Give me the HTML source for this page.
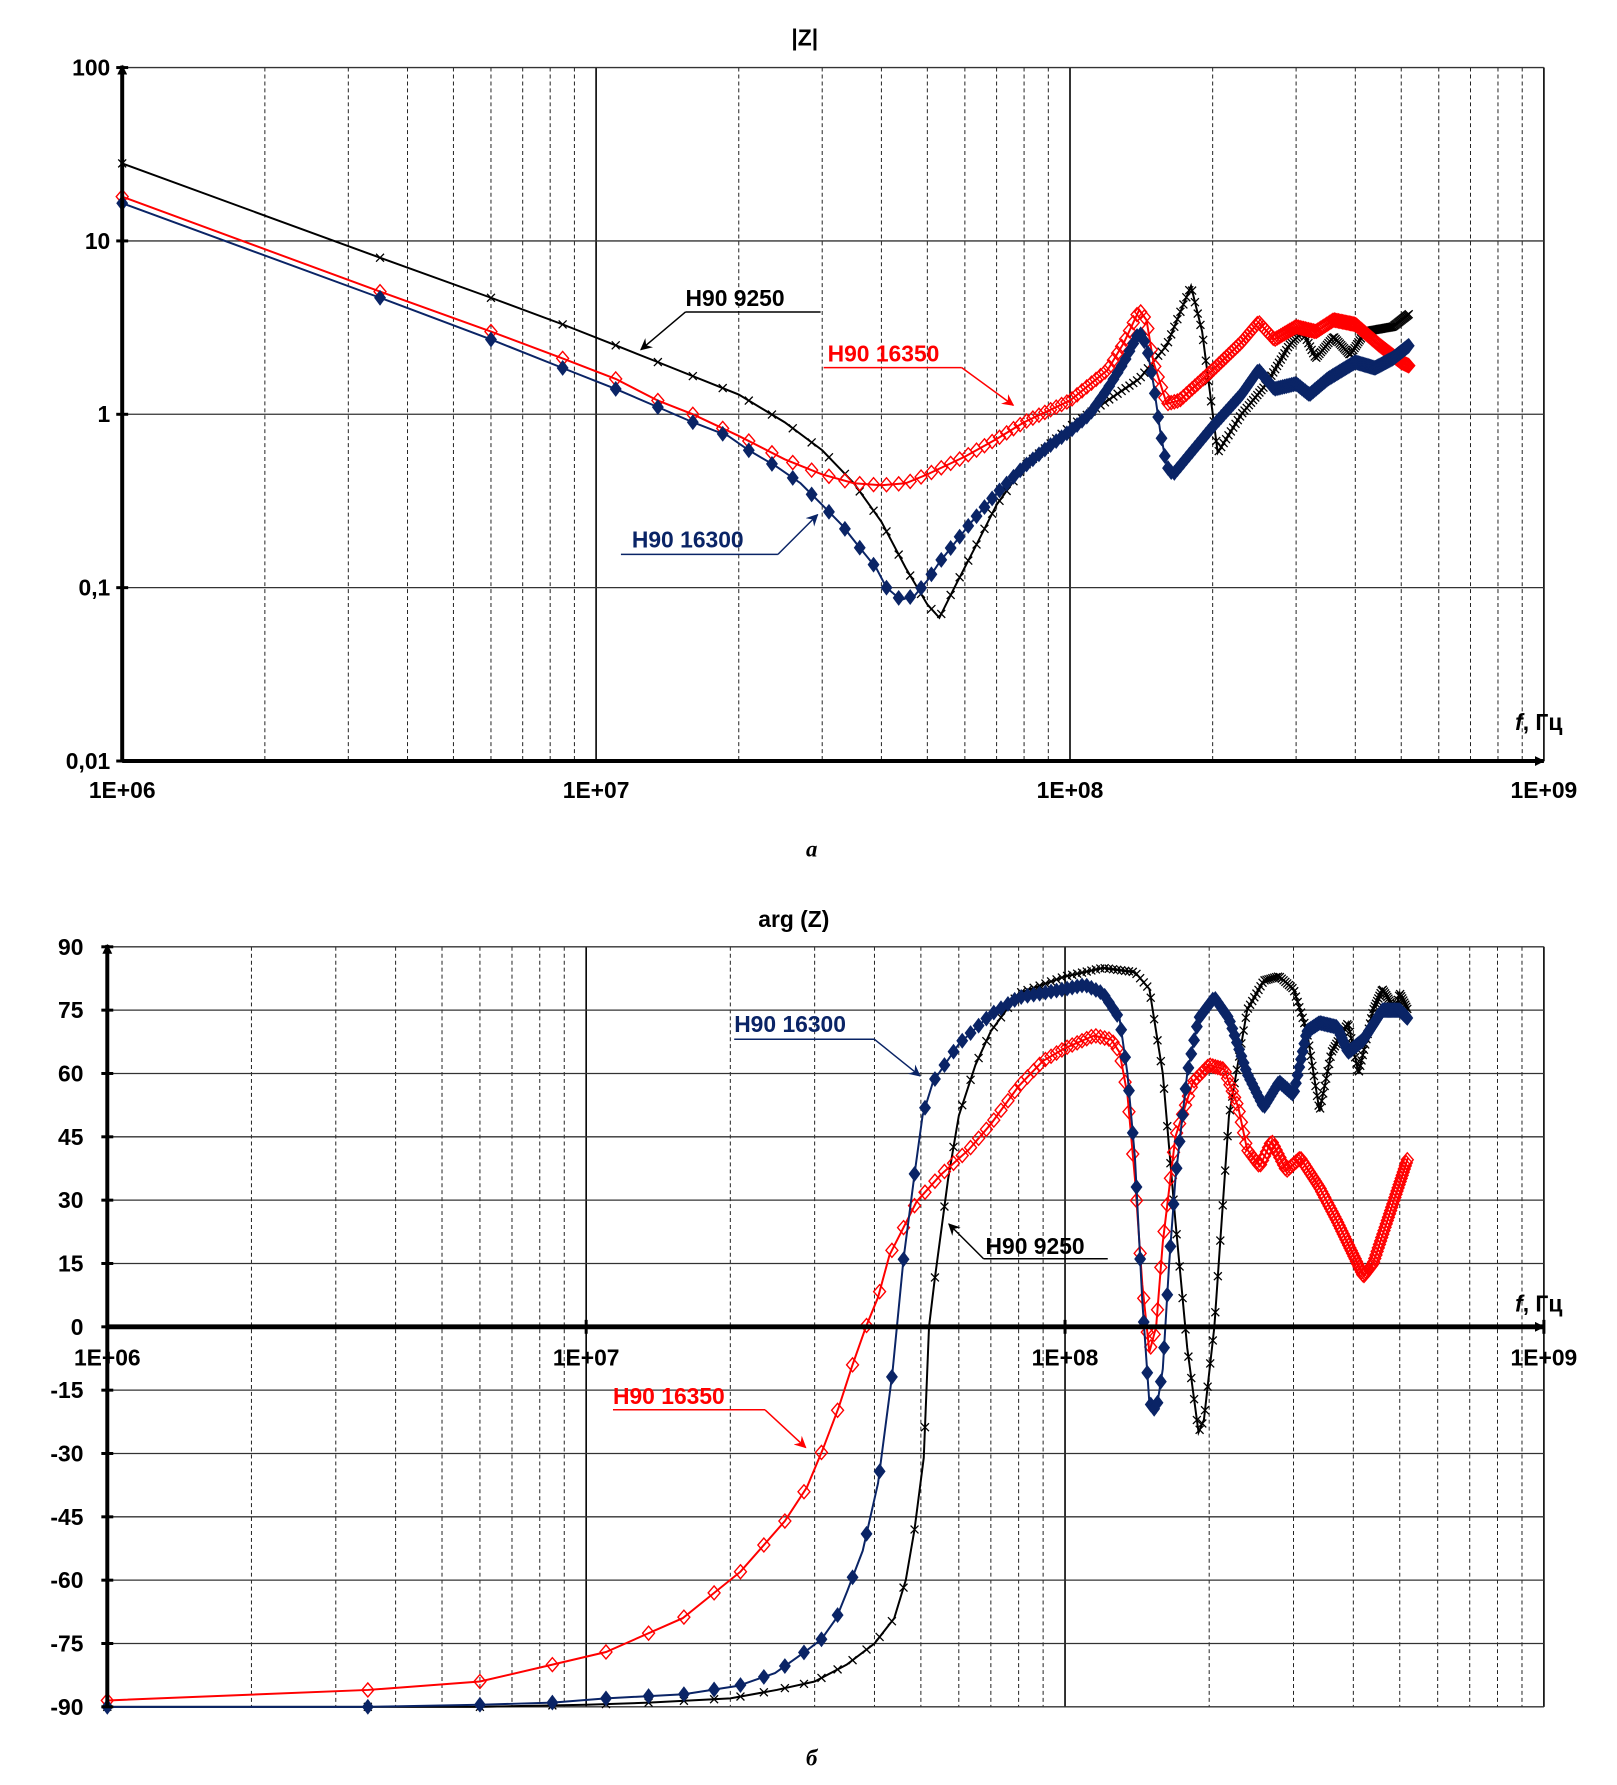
<!DOCTYPE html>
<html><head><meta charset="utf-8"><style>
html,body{margin:0;padding:0;background:#fff;}
svg{display:block;font-family:"Liberation Sans",sans-serif;}
.lbl{font-weight:bold;font-size:23px;}
</style></head><body>
<svg id="svg" width="1617" height="1785" viewBox="0 0 1617 1785">
<defs>
<marker id="ab" markerWidth="10" markerHeight="10" refX="9" refY="5" orient="auto" markerUnits="userSpaceOnUse"><path d="M0,0 L10,5 L0,10 z" fill="#000"/></marker>
<marker id="ar" markerWidth="12" markerHeight="12" refX="11" refY="6" orient="auto" markerUnits="userSpaceOnUse"><path d="M0,0 L12,6 L0,12 L4,6z" fill="red"/></marker>
<marker id="an" markerWidth="12" markerHeight="12" refX="11" refY="6" orient="auto" markerUnits="userSpaceOnUse"><path d="M0,0 L12,6 L0,12 L4,6z" fill="#0a2466"/></marker>
<marker id="ak" markerWidth="12" markerHeight="12" refX="11" refY="6" orient="auto" markerUnits="userSpaceOnUse"><path d="M0,0 L12,6 L0,12 L4,6z" fill="#000"/></marker>
</defs>
<g id="root" transform="scale(0.9935)"></g>
</svg>
<script>
// ===== Top chart |Z| data =====
const magBlueF=[1e6,3.5e6,6e6,8.5e6,1.1e7,1.35e7,1.6e7,1.9e7,2.1e7,2.4e7,2.7e7,3e7,3.3e7,3.6e7,3.9e7,4.1e7,4.4e7,4.7e7,5e7,5.3e7,5.7e7,6.2e7,7e7,8e7,9e7,1e8,1.1e8,1.2e8,1.3e8,1.4e8,1.45e8,1.5e8,1.55e8,1.6e8,1.65e8,1.8e8,2e8,2.3e8,2.5e8,2.7e8,3e8,3.2e8,3.5e8,4e8,4.4e8,4.8e8,5.2e8];
const magBlueV=[16.5,4.7,2.7,1.85,1.4,1.1,0.9,0.75,0.62,0.5,0.4,0.3,0.23,0.17,0.13,0.1,0.085,0.09,0.11,0.14,0.18,0.24,0.35,0.5,0.65,0.8,1.0,1.4,2.0,3.0,2.5,1.5,0.8,0.5,0.45,0.6,0.85,1.3,1.8,1.4,1.5,1.3,1.6,2.0,1.85,2.1,2.5];
const magRedF=[1e6,3.5e6,6e6,8.5e6,1.1e7,1.35e7,1.6e7,2e7,2.5e7,3e7,3.5e7,4e7,4.5e7,5e7,6e7,7e7,8e7,1e8,1.2e8,1.3e8,1.4e8,1.45e8,1.5e8,1.6e8,1.7e8,2e8,2.3e8,2.5e8,2.7e8,3e8,3.3e8,3.6e8,4e8,4.5e8,5e8,5.2e8];
const magRedV=[18,5.1,3.0,2.1,1.6,1.2,1.0,0.75,0.55,0.45,0.4,0.39,0.4,0.45,0.57,0.72,0.9,1.2,1.8,2.6,4.0,3.5,2.0,1.15,1.2,1.8,2.6,3.4,2.7,3.2,3.0,3.5,3.3,2.5,2.0,1.9];
const magBlackF=[1e6,3.5e6,6e6,8.5e6,1.1e7,1.35e7,2e7,2.5e7,3e7,3.5e7,4e7,4.5e7,5e7,5.3e7,5.7e7,6.3e7,7e7,8e7,1e8,1.2e8,1.4e8,1.6e8,1.8e8,1.9e8,2.05e8,2.3e8,2.6e8,2.9e8,3.1e8,3.3e8,3.6e8,3.9e8,4.2e8,4.8e8,5.2e8];
const magBlackV=[28,8,4.7,3.3,2.5,2.0,1.3,0.9,0.62,0.4,0.24,0.13,0.08,0.067,0.1,0.17,0.3,0.5,0.85,1.2,1.6,2.5,5.5,3,0.6,1.0,1.5,2.5,3.0,2.1,2.8,2.2,3.0,3.2,3.8];
const magTicks=[0.01,0.1,1,10,100];
const magTickLabels=["0,01","0,1","1","10","100"];
const freqTicks=[1e6,1e7,1e8,1e9];
const freqTickLabels=["1E+06","1E+07","1E+08","1E+09"];
// ===== Bottom chart arg(Z) data =====
const phBlueF=[1e6,3.5e6,6e6,8.5e6,1.1e7,1.6e7,2.08e7,2.48e7,2.86e7,3.1e7,3.33e7,3.51e7,3.78e7,4.07e7,4.36e7,4.6e7,4.86e7,5.04e7,5.3e7,6e7,7e7,8e7,1e8,1.1e8,1.2e8,1.3e8,1.35e8,1.4e8,1.45e8,1.5e8,1.55e8,1.6e8,1.65e8,1.7e8,1.8e8,1.9e8,2.05e8,2.2e8,2.4e8,2.6e8,2.8e8,3e8,3.2e8,3.4e8,3.7e8,3.9e8,4.2e8,4.6e8,5e8,5.2e8];
const phBlueV=[-90,-90,-89.5,-89,-88,-87,-85,-82,-77,-74,-69,-62.6,-53,-37,-11,16,37,50,58,67,74,78,80,81,79,73,60,40,6,-18,-20,-10,15,35,60,73,78,73,60,52,58,55,70,72,71,65,68,75,75,73];
const phRedF=[1e6,3.5e6,6e6,8.5e6,1.1e7,1.59e7,2.1e7,2.6e7,2.89e7,3.12e7,3.37e7,3.6e7,3.84e7,4.07e7,4.3e7,4.6e7,4.9e7,5.5e7,6.3e7,7e7,8e7,9e7,1e8,1.15e8,1.25e8,1.3e8,1.35e8,1.4e8,1.45e8,1.5e8,1.55e8,1.6e8,1.7e8,1.85e8,2e8,2.15e8,2.3e8,2.4e8,2.55e8,2.7e8,2.9e8,3.1e8,3.4e8,3.7e8,4e8,4.2e8,4.4e8,4.8e8,5.2e8];
const phRedV=[-88.5,-86,-84,-80,-77,-69,-58,-46,-38,-29,-19,-9,0,7,17,23.5,29.7,36,42,48,57,63,66,69,68,65,55,35,10,-6,0,20,45,58,62,61,52,42,38,44,37,40,33,25,17,12,15,28,40];
const phBlackF=[1e6,3.5e6,6e6,1e7,1.35e7,2e7,2.5e7,3e7,3.5e7,4e7,4.4e7,4.65e7,4.85e7,5.07e7,5.2e7,5.34e7,5.7e7,6e7,6.5e7,7e7,8e7,1e8,1.2e8,1.4e8,1.5e8,1.6e8,1.7e8,1.8e8,1.9e8,1.95e8,2.05e8,2.2e8,2.4e8,2.6e8,2.8e8,3e8,3.2e8,3.4e8,3.6e8,3.9e8,4.1e8,4.4e8,4.6e8,4.9e8,5e8,5.2e8];
const phBlackV=[-90,-90,-90,-89.5,-89,-88,-86,-84,-80,-75,-69,-60,-48,-31,0,11,35,50,62,70,79,83,85,84,80,60,25,-5,-25,-22,0,50,75,82,83,80,70,51,65,72,60,75,80,75,79,75];
const phTicks=[-90,-75,-60,-45,-30,-15,0,15,30,45,60,75,90];

const NS="http://www.w3.org/2000/svg";
const svg=document.getElementById('root');
function el(tag,attrs,parent){const e=document.createElementNS(NS,tag);for(const k in attrs)e.setAttribute(k,attrs[k]);(parent||svg).appendChild(e);return e;}

const boxT={x0:123,x1:1554,y0:68,y1:766};
const boxB={x0:108,x1:1554,y0:953,y1:1718};
const xTop=f=>boxT.x0+(Math.log10(f)-6)/3*(boxT.x1-boxT.x0);
const yTop=v=>boxT.y1-(Math.log10(v)+2)/4*(boxT.y1-boxT.y0);
const xBot=f=>boxB.x0+(Math.log10(f)-6)/3*(boxB.x1-boxB.x0);
const yBot=v=>boxB.y1-(v+90)/180*(boxB.y1-boxB.y0);

function interp(F,V,f,logv){
  for(let i=0;i<F.length-1;i++){
    if(f>=F[i]&&f<=F[i+1]){
      const t=(Math.log10(f)-Math.log10(F[i]))/(Math.log10(F[i+1])-Math.log10(F[i]));
      if(logv) return Math.pow(10,Math.log10(V[i])+t*(Math.log10(V[i+1])-Math.log10(V[i])));
      return V[i]+t*(V[i+1]-V[i]);
    }
  }
  return null;
}

function grid(g,xf,box,ticksY,yf){
  const gg=el('g',{},g);
  
  
  for(let d=6;d<9;d++){
    for(let m=2;m<=9;m++){
      const x=xf(m*Math.pow(10,d));
      el('line',{x1:x,x2:x,y1:box.y0,y2:box.y1,stroke:'#222','stroke-width':1,'stroke-dasharray':'4,3'},gg);
    }
    const x=xf(Math.pow(10,d));
    el('line',{x1:x,x2:x,y1:box.y0,y2:box.y1,stroke:'#000','stroke-width':1.6},gg);
  }
  el('line',{x1:box.x1,x2:box.x1,y1:box.y0,y2:box.y1,stroke:'#000','stroke-width':1.6},gg);
  ticksY.forEach(v=>{const y=yf(v);el('line',{x1:box.x0,x2:box.x1,y1:y,y2:y,stroke:'#333','stroke-width':1.3},gg);});
}

function series(g,name,F,V,xf,yf,logv,color,mk){
  const s=el('g',{},g);
  
  
  const pts=F.map((f,i)=>xf(f).toFixed(1)+','+yf(V[i]).toFixed(1)).join(' ');
  el('polyline',{points:pts,fill:'none',stroke:color,'stroke-width':2},s);
  const last=F[F.length-1];
  for(let f=1e6;f<=last+1;f+=2.5e6){
    const v=interp(F,V,f,logv); if(v===null)continue;
    const x=xf(f),y=yf(v);
    if(mk==='fd'){el('path',{d:`M${x},${y-8}L${x+6},${y}L${x},${y+8}L${x-6},${y}z`,fill:color},s);}
    else if(mk==='od'){el('path',{d:`M${x},${y-7}L${x+6},${y}L${x},${y+7}L${x-6},${y}z`,fill:'none',stroke:color,'stroke-width':1.4},s);}
    else {el('path',{d:`M${x-4},${y-4}L${x+4},${y+4}M${x+4},${y-4}L${x-4},${y+4}`,stroke:color,'stroke-width':1.3},s);}
  }
}

function text(g,name,x,y,str,anchor,cls,fill,extra){
  const t=el('text',Object.assign({x:x,y:y,'text-anchor':anchor||'middle','class':cls||'lbl',fill:fill||'#000'},extra||{}),g);
  t.textContent=str;
  
  
  return t;
}

function annot(g,name,tx,ty,ux1,ux2,uy,ax,ay,color,mk,str,lineFromLeft){
  const a=el('g',{},g);
  
  
  text(a,name+'-text',tx,ty,str,'start','lbl',color);
  el('line',{x1:ux1,x2:ux2,y1:uy,y2:uy,stroke:color,'stroke-width':1.5},a);
  const sx=lineFromLeft?ux1:ux2;
  el('line',{x1:sx,y1:uy,x2:ax,y2:ay,stroke:color,'stroke-width':1.5,'marker-end':`url(#${mk})`},a);
}

function ftitle(g,x,y){
  const t=el('text',{x:x,y:y,'class':'lbl'},g);
  
  
  const a=el('tspan',{'font-style':'italic'},t); a.textContent='f';
  const b=el('tspan',{},t); b.textContent=', Гц';
}

// ===== Top chart =====
const gT=el('g',{});


grid(gT,xTop,boxT,magTicks,yTop);
series(gT,'series-h90-9250',magBlackF,magBlackV,xTop,yTop,true,'#000','x');
series(gT,'series-h90-16350',magRedF,magRedV,xTop,yTop,true,'#ff0000','od');
series(gT,'series-h90-16300',magBlueF,magBlueV,xTop,yTop,true,'#0a2466','fd');
el('line',{x1:boxT.x0,x2:boxT.x0,y1:boxT.y1,y2:boxT.y0-2,stroke:'#000','stroke-width':4,'marker-end':'url(#ab)'},gT);
el('line',{x1:boxT.x0,x2:boxT.x1,y1:boxT.y1,y2:boxT.y1,stroke:'#000','stroke-width':4,'marker-end':'url(#ab)'},gT);
magTicks.forEach((v,i)=>{el('line',{x1:boxT.x0-6,x2:boxT.x0+6,y1:yTop(v),y2:yTop(v),stroke:'#000','stroke-width':3},gT);
  text(gT,'y-tick-label',boxT.x0-12,yTop(v)+8,magTickLabels[i],'end');});
freqTicks.forEach((f,i)=>text(gT,'x-tick-label',xTop(f),boxT.y1+37,freqTickLabels[i]));
text(gT,'chart-title',810,46,'|Z|','middle','lbl','#000',{'font-size':'30'});
ftitle(gT,1525,735);
annot(gT,'label-h90-9250',690,308,690,826,314,645,352,'#000','ak','H90 9250',true);
annot(gT,'label-h90-16350',833,364,829,968,370,1020,408,'#ff0000','ar','H90 16350',false);
annot(gT,'label-h90-16300',636,551,625,783,558,823,518,'#0a2466','an','H90 16300',false);
text(gT,'caption-a',817,862,'а','middle','','#000',{'font-size':'34','font-style':'italic','font-family':'Liberation Serif,serif'});

// ===== Bottom chart =====
const gB=el('g',{});


grid(gB,xBot,boxB,phTicks,yBot);
series(gB,'series-h90-9250',phBlackF,phBlackV,xBot,yBot,false,'#000','x');
series(gB,'series-h90-16350',phRedF,phRedV,xBot,yBot,false,'#ff0000','od');
series(gB,'series-h90-16300',phBlueF,phBlueV,xBot,yBot,false,'#0a2466','fd');
el('line',{x1:boxB.x0,x2:boxB.x0,y1:boxB.y1,y2:boxB.y0-2,stroke:'#000','stroke-width':4,'marker-end':'url(#ab)'},gB);
el('line',{x1:boxB.x0,x2:boxB.x1,y1:yBot(0),y2:yBot(0),stroke:'#000','stroke-width':5,'marker-end':'url(#ab)'},gB);
phTicks.forEach(v=>{el('line',{x1:boxB.x0-6,x2:boxB.x0+6,y1:yBot(v),y2:yBot(v),stroke:'#000','stroke-width':3},gB);
  text(gB,'y-tick-label',boxB.x0-24,yBot(v)+8,String(v),'end');});
freqTicks.forEach((f,i)=>{el('line',{x1:xBot(f),x2:xBot(f),y1:yBot(0)-7,y2:yBot(0)+7,stroke:'#000','stroke-width':3},gB);
  text(gB,'x-tick-label',xBot(f),yBot(0)+39,freqTickLabels[i]);});
text(gB,'chart-title',799,933,'arg (Z)','middle','lbl','#000',{'font-size':'30'});
ftitle(gB,1525,1320);
annot(gB,'label-h90-16300',739,1039,739,880,1046,926,1083,'#0a2466','an','H90 16300',false);
annot(gB,'label-h90-9250',992,1262,990,1115,1267,955,1232,'#000','ak','H90 9250',true);
annot(gB,'label-h90-16350',617,1413,617,770,1419,811,1457,'#ff0000','ar','H90 16350',false);
text(gB,'caption-b',817,1777,'б','middle','','#000',{'font-size':'34','font-style':'italic','font-family':'Liberation Serif,serif'});
</script>
</body></html>
